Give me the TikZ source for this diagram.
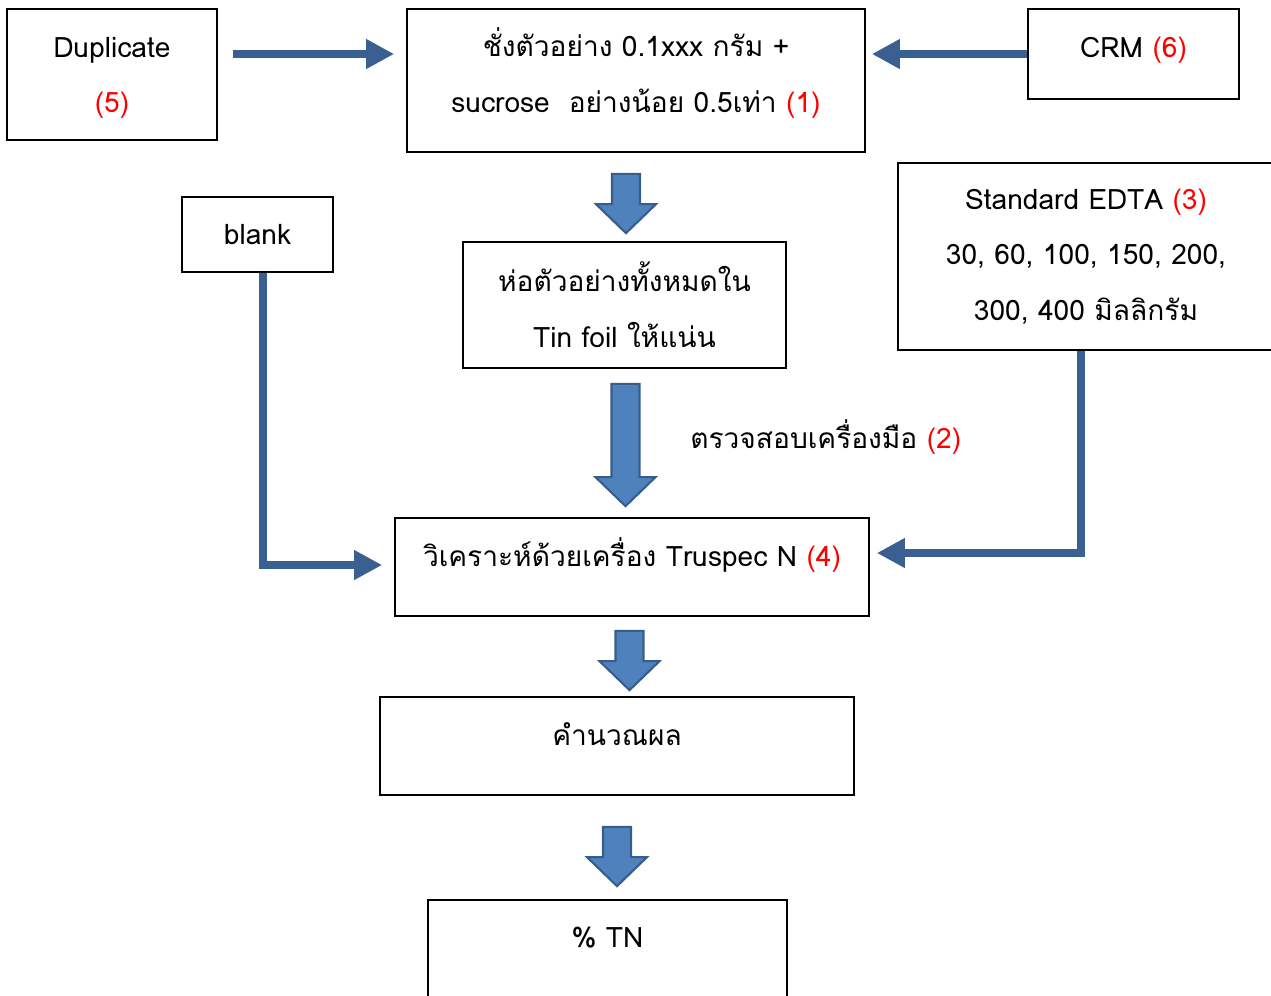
\documentclass[tikz,border=0pt]{standalone}
\usepackage{fontspec}
\setmainfont{Loma}[Script=Thai]
\usetikzlibrary{arrows.meta,calc}
\definecolor{numred}{RGB}{255,0,0}
\definecolor{linkblue}{RGB}{58,96,146}
\definecolor{fatfill}{RGB}{79,129,189}
\definecolor{fatedge}{RGB}{56,93,138}
\newcommand\num[1]{\textcolor{numred}{#1}}
% raise a box text without changing its size
\newcommand\lifted[2][0.24cm]{\raisebox{#1}[\height][\depth]{#2}}
\newcommand\lines[1]{\begin{tabular}{@{}c@{}}#1\end{tabular}}
% fat block arrow pointing down, from #1 to the tip #2
\newcommand\fatdown[2]{%
  \draw[fatarr] let \p1=(#1), \p2=(#2) in
    (\x1-0.28cm,\y1) -- (\x1+0.28cm,\y1) -- (\x1+0.28cm,\y2+0.58cm)
    -- (\x1+0.6cm,\y2+0.58cm) -- (\x1,\y2) -- (\x1-0.6cm,\y2+0.58cm)
    -- (\x1-0.28cm,\y2+0.58cm) -- cycle;}

\begin{document}
\begin{tikzpicture}[x=0.02cm, y=-0.02cm,
   font=\fontsize{16pt}{31.7pt}\selectfont,
   box/.style={draw, line width=1pt, align=center, fill=white},
   arr/.style={draw=linkblue, line width=5pt, -{Triangle[length=0.56cm, width=0.56cm]}},
   fatarr/.style={fill=fatfill, draw=fatedge, line width=1.2pt, line join=miter}]
   \useasboundingbox (0,0) rectangle (1271,995);
   \node[box, minimum width=4.2cm, minimum height=2.62cm] (dup) at (112,74.5) {\lifted[0.01cm]{\lines{Duplicate\\\num{(5)}}}};
   \node[box, minimum width=9.16cm, minimum height=2.86cm] (weigh) at (636,80.5) {\lifted[0.14cm]{\lines{ชั่งตัวอย่าง 0.1xxx กรัม +\\sucrose\ \ อย่างน้อย 0.5เท่า \num{(1)}}}};
   \node[box, minimum width=4.22cm, minimum height=1.8cm] (crm) at (1133.5,54) {\lifted[0.08cm]{CRM \num{(6)}}};
   \node[box, minimum width=7.52cm, minimum height=3.74cm] (edta) at (1086,256.5) {Standard EDTA \num{(3)}\\30, 60, 100, 150, 200,\\300, 400 มิลลิกรัม};
   \node[box, minimum width=3.02cm, minimum height=1.5cm] (blank) at (257.5,234.5) {blank};
   \node[box, minimum width=6.46cm, minimum height=2.52cm] (foil) at (624.5,305) {ห่อตัวอย่างทั้งหมดใน\\Tin foil ให้แน่น};
   \node[box, minimum width=9.48cm, minimum height=1.96cm] (ana) at (632,567) {\lifted{วิเคราะห์ด้วยเครื่อง Truspec N \num{(4)}}};
   \node[box, minimum width=9.48cm, minimum height=1.96cm] (calc) at (617,746) {\lifted{คำนวณผล}};
   \node[box, minimum width=7.18cm, minimum height=2cm] (tn) at (607.5,950) {\lifted{\% TN}};
   \node[anchor=west, inner sep=0pt] (check) at (690,437) {ตรวจสอบเครื่องมือ \num{(2)}};

   \draw[arr] ($(dup.east)+(15,-20.5)$) -- ($(weigh.west)+(-12,-26.5)$);
   \draw[arr] (crm.west) -- ($(weigh.east)+(6,-26.5)$);
   \draw[arr] ($(blank.south)+(5.5,0)$) |- ($(ana.west)+(-12,-2)$);
   \draw[arr] ($(edta.south)+(-5,0)$) |- ($(ana.east)+(7,-14)$);

   \fatdown{$(weigh.south)+(-10,21)$}{$(foil.north)+(0,-8)$}
   \fatdown{$(foil.south)+(1,15)$}{$(ana.north)+(0,-11)$}
   \fatdown{$(ana.south)+(-2.5,14)$}{$(calc.north)+(0,-6)$}
   \fatdown{$(calc.south)+(0,31)$}{$(tn.north)+(0,-13)$}
\end{tikzpicture}
\end{document}
